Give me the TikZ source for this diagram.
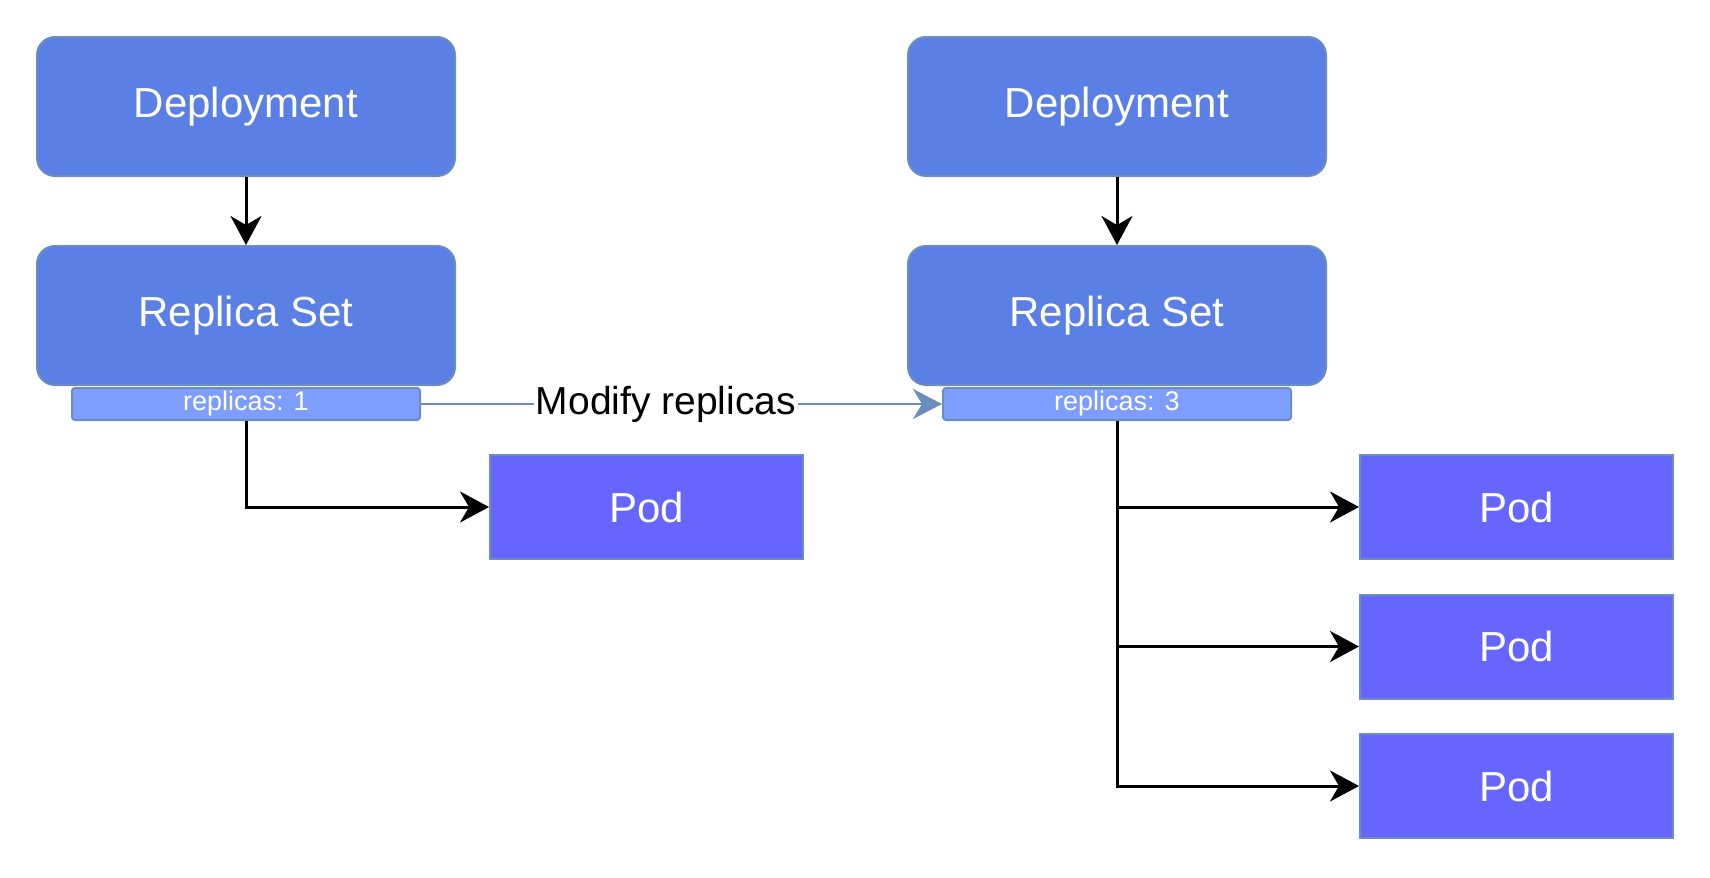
\documentclass[tikz,border=0pt]{standalone}
\usepackage{fontspec}
\setmainfont{Liberation Sans}
\setsansfont{Liberation Sans}
\usetikzlibrary{arrows.meta, positioning}
\definecolor{kblue}{HTML}{5A7FE5}
\definecolor{kline}{HTML}{6C8EBF}
\definecolor{kbar}{HTML}{7E9EFF}
\definecolor{kpod}{HTML}{6666FF}
\tikzset{
  every picture/.style={font=\sffamily, line width=1pt},
  obj/.style={draw=kline, fill=kblue, rounded corners=9pt, text=white, minimum width=209pt, minimum height=69.5pt, inner sep=0pt, font=\sffamily\fontsize{21}{24}\selectfont},
  count/.style={draw=kline, fill=kbar, rounded corners=1.5pt, text=white, minimum width=174pt, minimum height=16pt, inner sep=0pt, font=\sffamily\fontsize{13.5}{16}\selectfont},
  pod/.style={draw=kline, fill=kpod, text=white, minimum width=156.5pt, minimum height=52pt, inner sep=0pt, font=\sffamily\fontsize{21}{24}\selectfont},
  arrow/.style={-{Stealth[length=14.5pt, width=15.5pt, inset=4.5pt]}, draw=black, line width=1.5pt},
  link/.style={-{Stealth[length=14.5pt, width=15pt, inset=4.5pt]}, draw=kline, line width=1.1pt},
  note/.style={fill=white, text=black, inner sep=1pt, font=\sffamily\fontsize{19.5}{22}\selectfont},
}
\begin{document}
\begin{tikzpicture}[x=0.5pt, y=-0.5pt]
  \useasboundingbox (0,0) rectangle (1710,878);
  % before
  \node[obj] (dep1) at (246,106.5) {Deployment};
  \node[obj] (rs1) at (246,315.5) {Replica Set};
  \node[count] (cnt1) at (246,404) {replicas: 1};
  \node[pod] (pod1) at (646.5,507) {Pod};
  % after
  \node[obj] (dep2) at (1117,106.5) {Deployment};
  \node[obj] (rs2) at (1117,315.5) {Replica Set};
  \node[count] (cnt2) at (1117,404) {replicas: 3};
  \node[pod] (pod2a) at (1516.5,507) {Pod};
  \node[pod] (pod2b) at (1516.5,646.5) {Pod};
  \node[pod] (pod2c) at (1516.5,786) {Pod};
  \draw[arrow] (dep1) -- (rs1);
  \draw[arrow] (dep2) -- (rs2);
  \draw[arrow] (cnt1.south) |- (pod1.west);
  \draw[link] (cnt1.east) -- node[note, pos=0.47] {Modify replicas} (cnt2.west);
  \draw[arrow] (cnt2.south) |- (pod2c.west);
  \foreach \p in {pod2a, pod2b}
    \draw[arrow] (cnt2.south |- \p.west) -- (\p.west);
\end{tikzpicture}
\end{document}
